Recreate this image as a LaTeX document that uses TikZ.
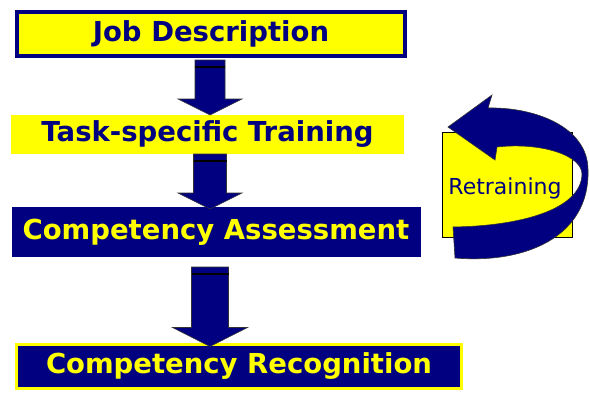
\documentclass[tikz,border=0pt]{standalone}
\usepackage{fontspec}
\setmainfont{DejaVu Sans}
\usetikzlibrary{positioning, calc}

\definecolor{navy}{RGB}{0,0,128}
\definecolor{lemon}{RGB}{255,255,0}

\tikzset{
  x=1pt, y=1pt,
  every node/.style={inner sep=0pt, outer sep=0pt},
  stage/.style={rectangle, minimum height=#1, font=\fontsize{27.5}{30}\selectfont\bfseries},
  plain/.style={stage=#1, fill=lemon, text=navy},
  framed/.style={stage=#1, fill=lemon, draw=navy, line width=4pt, text=navy},
  dark/.style={stage=#1, fill=navy, text=lemon},
  darkframed/.style={stage=#1, fill=navy, draw=lemon, line width=3pt, text=lemon},
  blockarrow/.style={fill=navy, draw=black!80, line width=0.6pt, line join=miter},
  stripe/.style={draw=black, line width=2pt},
}

% block arrow: top point, tip point, half shaft, half head, head length
\newcommand\blockdown[5]{%
  \draw[blockarrow] let \p1=(#1), \p2=(#2) in
    (\x2-#3pt,\y1) -- (\x2+#3pt,\y1) -- (\x2+#3pt,\y2+#5pt) -- (\x2+#4pt,\y2+#5pt)
    -- (\x2,\y2) -- (\x2-#4pt,\y2+#5pt) -- (\x2-#3pt,\y2+#5pt) -- cycle;
  \draw[stripe] let \p1=(#1), \p2=(#2) in
    (\x2-#3pt,\y1-7pt) -- (\x2+#3pt,\y1-7pt);
}

\begin{document}
\begin{tikzpicture}
  \useasboundingbox (0,0) rectangle (589,392);

  % stages
  \node[framed=44pt, minimum width=388pt] (job) at (211,358) {Job Description};
  \node[plain=39pt, minimum width=393pt] (task) at (207.5,257.5) {Task-specific Training};
  \node[dark=50pt, minimum width=409pt] (assess) at (216,160) {Competency Assessment};
  \node[darkframed=44pt, minimum width=445pt] (recog) at (239,25.5) {Competency Recognition};

  % arrows between stages
  \coordinate (axis) at (210,0);
  \coordinate (a1) at ([yshift=-4pt]job.south -| axis);
  \coordinate (a2) at (task.south -| axis);
  \coordinate (a3) at ([yshift=-10pt]assess.south -| axis);
  \blockdown{a1}{task.north -| axis}{15}{32}{16}
  \blockdown{a2}{[yshift=-2pt]assess.north -| axis}{16.5}{32}{16}
  \blockdown{a3}{[yshift=-2pt]recog.north -| axis}{18.5}{37.5}{19}

  % retraining loop
  \node[rectangle, fill=lemon, draw=black, line width=0.6pt, minimum width=130pt,
        minimum height=105pt] (retrain) at (507,207.5) {};
  \node[text=navy, font=\fontsize{22}{24}\selectfont, anchor=center] (retext) at (505,204) {Retraining};
  \draw[blockarrow] (455,134) .. controls (525,128) and (590,155) .. (588,222)
    .. controls (588,265) and (535,285) .. (488,284)
    -- (492,297) -- (448,265) -- (495,232) -- (497,245)
    .. controls (540,250) and (583,237) .. (582,217)
    .. controls (580,182) and (520,166) .. (453,165) -- cycle;
\end{tikzpicture}
\end{document}
